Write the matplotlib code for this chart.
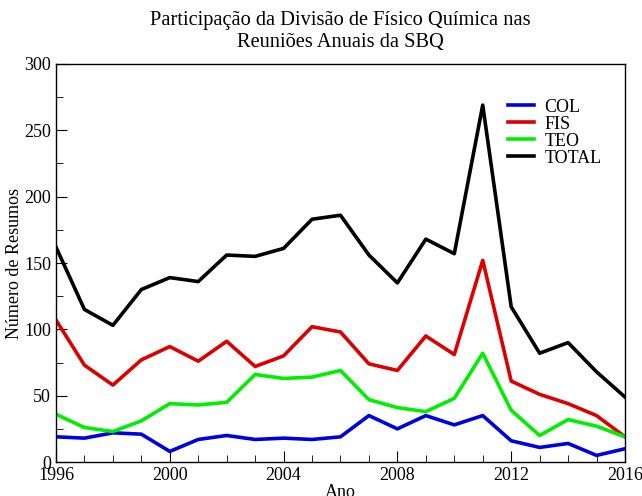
import matplotlib
matplotlib.use('Agg')
from matplotlib import pyplot as plt
from matplotlib.ticker import MultipleLocator

anos = list(range(1996, 2017))
col = [19, 18, 22, 21, 8, 17, 20, 17, 18, 17, 19, 35, 25, 35, 28, 35, 16, 11, 14, 5, 10]
fis = [107, 73, 58, 77, 87, 76, 91, 72, 80, 102, 98, 74, 69, 95, 81, 152, 61, 51, 44, 35, 19]
teo = [36, 26, 23, 31, 44, 43, 45, 66, 63, 64, 69, 47, 41, 38, 48, 82, 39, 20, 32, 27, 19]
total = [162, 115, 103, 130, 139, 136, 156, 155, 161, 183, 186, 156, 135, 168, 157, 269, 117, 82, 90, 68, 49]

plt.rcParams['font.family'] = ['Liberation Serif', 'DejaVu Serif']

fig = plt.figure(figsize=(6.42, 4.96), dpi=100)
ax = fig.add_axes([0.0872, 0.0685, 0.8863, 0.8025])

ax.plot(anos, col, color='#0000e0', lw=2.6, label='COL')
ax.plot(anos, fis, color='#dd0000', lw=2.6, label='FIS')
ax.plot(anos, teo, color='#00ee00', lw=2.6, label='TEO')
ax.plot(anos, total, color='black', lw=2.6, label='TOTAL')

ax.set_xlim(1996, 2016)
ax.set_ylim(0, 300)
ax.xaxis.set_major_locator(MultipleLocator(4))
ax.xaxis.set_minor_locator(MultipleLocator(1))
ax.yaxis.set_major_locator(MultipleLocator(50))
ax.yaxis.set_minor_locator(MultipleLocator(25))
ax.tick_params(which='both', direction='in', top=False, right=False, labelsize=13)
ax.tick_params(which='major', length=8)
ax.tick_params(which='minor', length=5)
for s in ax.spines.values():
    s.set_linewidth(1)

ax.set_xlabel('Ano', fontsize=13, labelpad=0)
ax.set_ylabel('Número de Resumos', fontsize=13)
ax.yaxis.set_label_coords(-0.058, 0.5)
fig.suptitle('Participação da Divisão de Físico Química nas\nReuniões Anuais da SBQ',
             fontsize=14.7, x=0.53, y=0.978, linespacing=1.2)

ax.legend(loc='upper right', bbox_to_anchor=(0.981, 0.945), frameon=False,
          fontsize=13, handlelength=1.4, handletextpad=0.6,
          labelspacing=0.0, borderpad=0.2)

fig.savefig('out.png', dpi=100)
